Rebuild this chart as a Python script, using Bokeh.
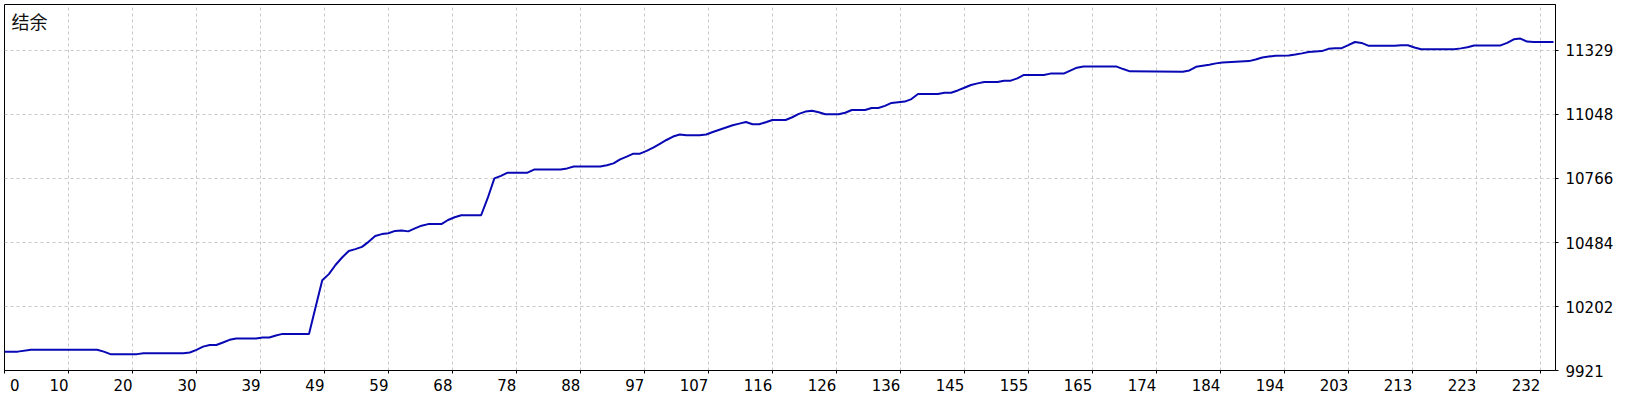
from bokeh.plotting import figure
from bokeh.models import Range1d, FixedTicker, CustomJSTickFormatter, Label
from bokeh.embed import file_html
from bokeh.resources import INLINE

# ---- data ----
trade = [0, 2, 4, 14, 15, 16, 20, 21, 27, 28, 29, 30, 31, 32, 33, 34, 35, 38, 39, 40, 41, 42, 46, 47, 48,
         49, 50, 51, 52, 53, 54, 55, 56, 57, 58, 59, 60, 61, 62, 63, 64, 66, 67, 68, 69, 72, 73, 74, 75, 76,
         79, 80, 84, 85, 86, 90, 91, 92, 93, 94, 95, 96, 97, 98, 99, 100, 101, 102, 103, 105, 106, 107, 108, 109, 110,
         111, 112, 113, 114, 115, 116, 118, 119, 120, 121, 122, 123, 124, 126, 127, 128, 130, 131, 132, 133, 134, 136, 137, 138, 141,
         142, 143, 144, 145, 146, 147, 148, 150, 151, 152, 153, 154, 157, 158, 160, 161, 162, 163, 168, 169, 170, 178, 179, 180, 181,
         182, 183, 184, 186, 188, 189, 190, 191, 192, 194, 195, 196, 197, 199, 200, 201, 202, 203, 204, 205, 206, 210, 211, 212, 213,
         214, 219, 220, 221, 222, 226, 227, 228, 229, 230, 231, 234]
balance = [10004, 10004, 10012, 10012, 10004, 9993, 9993, 9997, 9997, 10000, 10012, 10026, 10033, 10033, 10044, 10056, 10062, 10062, 10066, 10066, 10075, 10082, 10082, 10200, 10318,
           10345, 10385, 10418, 10447, 10455, 10465, 10487, 10513, 10521, 10525, 10535, 10537, 10533, 10546, 10558, 10565, 10565, 10583, 10595, 10604, 10604, 10680, 10766, 10777, 10791,
           10791, 10805, 10805, 10810, 10818, 10818, 10824, 10832, 10850, 10862, 10875, 10875, 10887, 10901, 10918, 10935, 10950, 10959, 10956, 10956, 10959, 10970, 10980, 10990, 11000,
           11007, 11014, 11004, 11004, 11013, 11023, 11023, 11035, 11050, 11060, 11064, 11057, 11048, 11048, 11055, 11067, 11067, 11076, 11076, 11085, 11098, 11104, 11115, 11137, 11137,
           11143, 11143, 11153, 11165, 11177, 11184, 11190, 11190, 11196, 11196, 11206, 11221, 11221, 11227, 11227, 11240, 11253, 11258, 11258, 11247, 11237, 11235, 11241, 11257, 11262,
           11266, 11272, 11276, 11279, 11282, 11289, 11298, 11302, 11306, 11307, 11311, 11316, 11322, 11326, 11336, 11339, 11339, 11352, 11366, 11362, 11350, 11350, 11352, 11352, 11342,
           11334, 11334, 11338, 11343, 11351, 11351, 11362, 11378, 11381, 11368, 11366, 11366]

x_labels = ["0", "10", "20", "30", "39", "49", "59", "68", "78", "88", "97", "107", "116",
            "126", "136", "145", "155", "165", "174", "184", "194", "203", "213", "223", "232"]
y_ticks = [9921, 10202, 10484, 10766, 11048, 11329]
title_text = "结余"

X_MAX = 234.3
Y_MIN, Y_MAX = 9921, 11531

FONT = "DejaVu Sans"
GRID = "#c8c8c8"

p = figure(frame_width=1551, frame_height=366, output_backend="svg", toolbar_location=None, tools="",
           x_range=Range1d(0, X_MAX), y_range=Range1d(Y_MIN, Y_MAX),
           y_axis_location="right", min_border_left=4, min_border_top=4,
           min_border_bottom=0, min_border_right=6)
p.background_fill_color = "white"
p.border_fill_color = "white"
p.outline_line_color = "black"
p.outline_line_width = 1

step = float(x_labels[-1]) / (len(x_labels) - 1)
x_ticks = [i * step for i in range(len(x_labels))]
# labels sit left of their tick (first one to its right), as in the reference
padded = [("\u2007" + l) if i == 0 else (l + "\u2007" * len(l)) for i, l in enumerate(x_labels)]

xa = p.xaxis[0]
xa.ticker = FixedTicker(ticks=x_ticks)
xa.formatter = CustomJSTickFormatter(args=dict(labels=padded, step=step),
                                     code="return labels[Math.round(tick / step)]")
ya = p.yaxis[0]
ya.ticker = FixedTicker(ticks=y_ticks)

for ax in (xa, ya):
    ax.axis_line_color = "black"
    ax.major_tick_line_color = "black"
    ax.major_tick_out = 3
    ax.major_tick_in = 0
    ax.minor_tick_line_color = None
    ax.major_label_text_font = FONT
    ax.major_label_text_font_size = "15px"
    ax.major_label_text_color = "black"
xa.major_label_standoff = 3
ya.major_label_standoff = 7

for g in (p.xgrid[0], p.ygrid[0]):
    g.grid_line_color = GRID
    g.grid_line_dash = "3 3"
    g.grid_line_width = 1
p.xgrid[0].ticker = xa.ticker
p.ygrid[0].ticker = ya.ticker

p.line(trade, balance, line_color="#0808b4", line_width=2)

p.add_layout(Label(x=0, y=Y_MAX, x_offset=7, y_offset=-3, text=title_text,
                   text_font="Noto Sans CJK SC", text_font_size="18px",
                   text_baseline="top", text_align="left", text_color="#111111"))

open("out.html", "w").write(file_html(p, INLINE))
